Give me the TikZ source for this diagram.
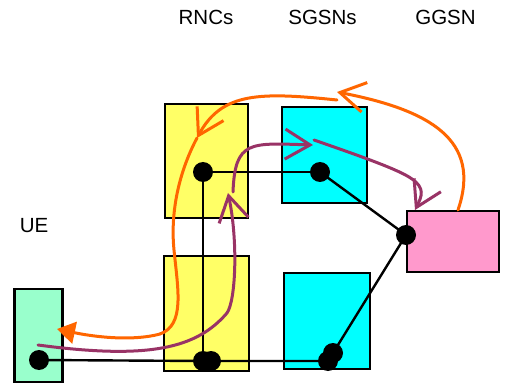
\documentclass[tikz,border=0pt]{standalone}
\usepackage{fontspec}
\setmainfont{Liberation Sans}
\usetikzlibrary{arrows.meta}
\definecolor{rncyellow}{HTML}{FFFF66}
\definecolor{sgsncyan}{HTML}{00FFFF}
\definecolor{ggsnpink}{HTML}{FF99CC}
\definecolor{uegreen}{HTML}{99FFCC}
\definecolor{flowor}{HTML}{FF6600}
\definecolor{flowpu}{HTML}{993366}
\begin{document}
\begin{tikzpicture}[x=1pt,y=-1pt,
  box/.style={draw=black,line width=2.5pt,rectangle,inner sep=0pt},
  dot/.style={circle,fill=black,inner sep=0pt,minimum size=20pt},
  link/.style={line width=2.4pt,black},
  lbl/.style={font=\fontsize{20.5}{24}\selectfont,inner sep=0pt,anchor=base},
  oflow/.style={line width=3pt,flowor,line cap=round},
  pflow/.style={line width=3pt,flowpu,line cap=round},
  barb/.style={-{Straight Barb[length=25pt,width=30pt]}}
]
\useasboundingbox (0,0) rectangle (509,385);
% labels
\node[lbl] (lrnc) at (206,25) {RNCs};
\node[lbl] (lsgsn) at (322.5,25) {SGSNs};
\node[lbl] (lggsn) at (445.5,25) {GGSN};
\node[lbl] (lue) at (34,233) {UE};
% boxes
\node[box,fill=rncyellow,minimum width=83pt,minimum height=114pt] (rnc1) at (206.5,161) {};
\node[box,fill=sgsncyan,minimum width=85pt,minimum height=96pt] (sgsn1) at (324.5,155) {};
\node[box,fill=ggsnpink,minimum width=92pt,minimum height=61pt] (ggsn) at (453,241.5) {};
\node[box,fill=rncyellow,minimum width=85pt,minimum height=115pt] (rnc2) at (206.5,313.5) {};
\node[box,fill=sgsncyan,minimum width=86pt,minimum height=96pt] (sgsn2) at (327,321) {};
\node[box,fill=uegreen,minimum width=48pt,minimum height=93pt] (ue) at (38.5,335.5) {};
% dots
\node[dot] (d1) at (203,172) {};
\node[dot] (d2) at (320,172) {};
\node[dot] (d3) at (406,235) {};
\node[dot] (due) at (39,360) {};
\node[dot] (db1) at (203,361) {};
\node[dot] (db2) at (211,361) {};
\node[dot] (dc1) at (333,353) {};
\node[dot] (dc2) at (328,361) {};
% links
\draw[link] (d1.center) -- (d2.center);
\draw[link] (d1.center) -- (db1.center);
\draw[link] (d2.center) -- (d3.center);
\draw[link] (d3.center) -- (dc1.center);
\draw[link] (due.center) -- (db1.center) -- (dc2.center);
% flow coordinates
\coordinate (oa0) at (458,210);
\coordinate (oa1) at (337,92);
\coordinate (ob0) at (337,100);
\coordinate (ob1) at (197,138);
\coordinate (ob2) at (174,250);
\coordinate (ob3) at (160,334);
\coordinate (ob4) at (57,329);
\coordinate (pa0) at (38,345);
\coordinate (pa1) at (227,313);
\coordinate (pa2) at (228,193);
\coordinate (pb0) at (233,192);
\coordinate (pb1) at (313,145);
\coordinate (pc0) at (314,140);
\coordinate (pc1) at (412,179);
\coordinate (pc2) at (415,210);
% orange flow
\draw[oflow,barb] (oa0) .. controls (482,140) and (430,110) .. (oa1);
\draw[oflow,barb] (ob0) .. controls (260,92) and (222,92) .. (ob1);
\draw[oflow] (ob1) .. controls (180,170) and (170,210) .. (ob2)
   .. controls (178,290) and (185,325) .. (ob3);
\draw[oflow,-{Triangle[length=18pt,width=22pt]}] (ob3) .. controls (130,342) and (90,336) .. (ob4);
% purple flow
\draw[pflow,barb] (pa0) .. controls (150,360) and (197,348) .. (pa1)
   .. controls (236,300) and (238,240) .. (pa2);
\draw[pflow,barb] (pb0) .. controls (235,140) and (250,143) .. (pb1);
\draw[pflow,barb] (pc0) .. controls (360,156) and (400,170) .. (pc1)
   .. controls (425,188) and (422,196) .. (pc2);
\end{tikzpicture}
\end{document}
